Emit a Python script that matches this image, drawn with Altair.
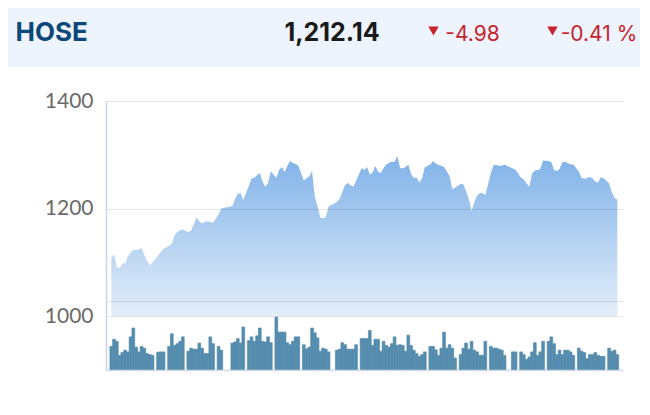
import altair as alt
import pandas as pd

# ---- header texts ----
index_name = "HOSE"
last_value = "1,212.14"
change_abs = "-4.98"
change_pct = "-0.41 %"

# ---- daily index close (None = no session) ----
prices = [
    1108.2, 1115.1, 1092.0, 1089.6, 1098.0, 1098.3, 1111.0, 1118.2, 1123.0, 1122.6,
    1124.5, 1126.2, 1113.8, 1103.2, 1094.2, 1099.8, None, 1112.8, 1119.3, 1125.5,
    None, 1130.8, 1134.2, 1150.0, 1156.5, 1159.7, 1161.0, None, 1156.0, 1159.3,
    1171.4, 1182.9, 1176.0, 1172.3, 1175.5, 1176.0, 1175.1, 1173.6, None, 1189.0,
    1200.2, None, None, None, 1204.8, 1217.8, 1227.1, 1229.0, 1216.0, None,
    1242.0, 1256.0, 1257.3, 1261.9, 1266.2, 1250.4, 1240.2, 1247.6, 1269.5, None,
    1256.9, 1271.7, 1277.3, 1268.0, 1279.2, 1288.5, 1284.8, 1282.9, 1279.7, None,
    1252.2, 1256.9, 1259.7, 1270.0, 1221.6, 1204.8, 1183.5, 1181.6, 1184.4, 1203.9,
    None, None, 1212.3, 1217.8, 1230.9, 1243.9, 1247.6, 1243.3, 1241.1, 1251.3,
    None, 1274.9, 1271.7, 1277.3, 1263.4, 1267.1, 1279.2, 1268.6, 1266.2, 1275.5,
    1282.0, 1285.1, 1287.2, 1286.6, 1298.0, 1276.0, 1274.5, 1277.3, 1282.0, 1264.3,
    1256.9, 1257.8, 1248.5, 1256.0, 1276.9, None, 1282.0, 1288.5, 1283.8, 1281.0,
    1279.7, 1277.3, 1268.9, 1260.6, 1236.4, 1238.8, None, 1245.7, 1245.2, 1232.7,
    1217.8, 1195.5, 1212.8, 1224.3, 1228.4, 1229.0, 1225.3, None, 1265.2, 1281.0,
    1281.0, 1279.7, 1279.7, 1282.0, None, None, 1274.5, 1272.2, None, 1257.4,
    1254.1, 1246.7, 1240.7, 1265.2, 1270.8, 1271.7, 1273.6, 1289.4, None, 1288.5,
    1286.6, 1271.7, 1269.9, 1273.6, 1286.1, 1287.5, 1284.2, 1282.5, 1282.0, None,
    1268.9, 1256.9, 1256.0, 1256.3, 1259.3, 1256.0, 1250.4, 1248.0, 1258.7, 1256.5,
    None, 1247.0, 1231.4, 1219.1, 1217.1,
]

# ---- daily volume, million shares (None = no session) ----
volumes = [
    690, 900, 840, 430, 510, 580, 530, 970, 1230, 670,
    530, 690, 640, 480, 450, 430, None, 520, 530, 530,
    None, 690, 1060, 720, 770, 840, 970, None, 550, 640,
    610, 610, 790, 640, 480, 480, 970, 770, None, 690,
    580, None, None, None, 790, 820, 920, 790, 1260, None,
    860, 970, 840, 1000, 1230, 840, 820, 970, 800, None,
    1550, 1110, 1110, 1110, 800, 740, 840, 970, 970, None,
    740, 620, 670, 1230, 1090, 940, 550, 640, 610, 530,
    None, None, 580, 610, 800, 740, 610, 610, 610, 740,
    None, 920, 920, 920, 1160, 720, 900, 900, 550, 840,
    720, 670, 770, 970, 720, 740, 720, 550, 1020, 720,
    580, 480, 400, 450, 530, None, 690, 690, 590, 430,
    640, 1110, 640, 740, 640, 350, None, 450, 640, 790,
    610, 840, 580, 530, 430, 430, 840, None, 690, 640,
    640, 610, 580, 430, None, None, 530, 530, None, 530,
    450, 310, 380, 530, 800, 430, 530, 840, None, 840,
    970, 770, 450, 580, 450, 580, 580, 530, 430, None,
    640, 550, 510, 330, 450, 450, 510, 430, 400, 400,
    None, 640, 550, 580, 450,
]

price_ticks = [1000, 1200, 1400]
price_base = 1000
volume_grid = [2000]

sessions = list(range(len(prices)))
df = pd.DataFrame({"session": sessions, "price": prices, "volume": volumes})
price_df = df.dropna(subset=["price"]).copy()
vol_df = df.dropna(subset=["volume"]).copy()
vol_df["x0"] = vol_df["session"] - 0.5
vol_df["x1"] = vol_df["session"] + 0.5

x_scale = alt.Scale(domain=[-1.93, 186.07], nice=False, zero=False)
x_axis = alt.Axis(labels=False, ticks=False, grid=False, title=None,
                  domainColor="#d3dbe7", domainWidth=1.5, zindex=1)

gradient = alt.Gradient(
    gradient="linear",
    stops=[alt.GradientStop(color="#80b2e8", offset=0),
           alt.GradientStop(color="#e4eefa", offset=1)],
    x1=0, x2=0, y1=0, y2=1,
)

area = alt.Chart(price_df).mark_area(color=gradient, interpolate="linear").encode(
    x=alt.X("session:Q", scale=x_scale, axis=x_axis),
    y=alt.Y("price:Q", scale=alt.Scale(domain=[900, 1400], nice=False, zero=False),
            axis=alt.Axis(values=price_ticks, format="d", title=None, ticks=False,
                          labelPadding=13, labelFont="Lato", labelFontSize=21,
                          labelColor="#6a6a6a", domainColor="#c8d6ea", domainWidth=1.5,
                          gridColor="#000000", gridOpacity=0.1, zindex=1)),
    y2=alt.datum(price_base),
)

vol_scale = alt.Scale(domain=[0, 7880], nice=False)

bars = alt.Chart(vol_df).mark_bar(
    color="#558cad", stroke="#558cad", strokeWidth=0.7
).encode(
    x=alt.X("x0:Q", scale=x_scale, axis=x_axis),
    x2="x1:Q",
    y=alt.Y("volume:Q", scale=vol_scale, axis=None),
    y2=alt.datum(0),
)

vol_rule = alt.Chart(pd.DataFrame({"v": volume_grid})).mark_rule(
    color="#000000", opacity=0.12, strokeWidth=1
).encode(y=alt.Y("v:Q", scale=vol_scale, axis=None))

volume_layer = alt.layer(bars, vol_rule)

header_df = pd.DataFrame({"t": [index_name]})
header_bg = alt.Chart(header_df).mark_rect(color="#eef4fd").encode(
    x=alt.value(-98), x2=alt.value(536), y=alt.value(-93), y2=alt.value(-34)
)


def header_text(text, xpos, color, size, weight):
    return alt.Chart(pd.DataFrame({"t": [text]})).mark_text(
        align="center", baseline="alphabetic", font="Inter",
        fontSize=size, fontWeight=weight, color=color,
    ).encode(text="t:N", x=alt.value(xpos), y=alt.value(-60.5))


def triangle(xpos):
    return alt.Chart(header_df).mark_point(
        shape="triangle-down", filled=True, color="#c8232c", size=110, opacity=1
    ).encode(x=alt.value(xpos), y=alt.value(-70))


t_name = header_text(index_name, -54.3, "#0c4779", 26, "bold")
t_last = header_text(last_value, 226, "#1a1a1a", 25, "bold")
t_abs = header_text(change_abs, 366.5, "#c8232c", 21, "normal")
t_pct = header_text(change_pct, 493, "#c8232c", 21, "normal")

chart = alt.layer(
    header_bg, t_name, t_last, t_abs, t_pct, triangle(327.5), triangle(446.5),
    area, volume_layer
).resolve_scale(y="independent").properties(
    width=517, height=269,
    autosize=alt.AutoSizeParams(type="none"),
    padding={"left": 98, "top": 93, "right": 17, "bottom": 33},
    background="#ffffff",
).configure_view(stroke=None)

chart.save("out.html", embed_options={"renderer": "svg", "actions": False})
